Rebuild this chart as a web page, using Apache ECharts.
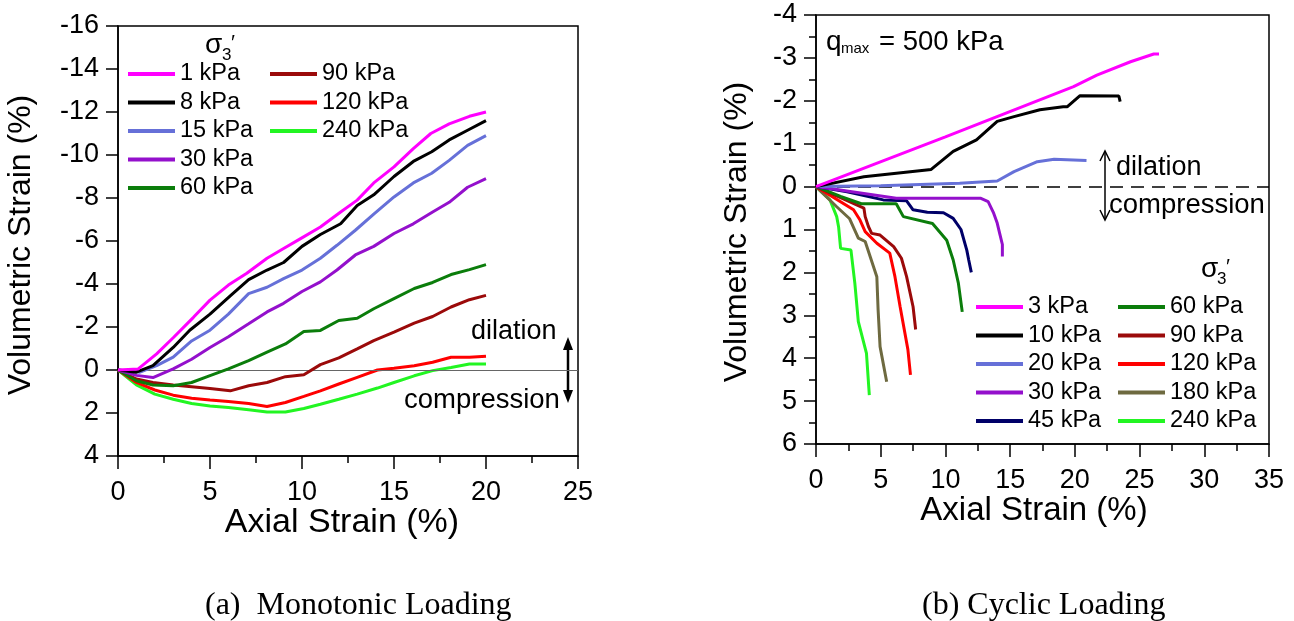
<!DOCTYPE html>
<html>
<head>
<meta charset="utf-8">
<script src="https://cdn.jsdelivr.net/npm/echarts@6/dist/echarts.min.js"></script>
<style>
html,body{margin:0;padding:0;background:#fff;}
#c{width:1294px;height:621px;}
</style>
</head>
<body>
<div id="c"></div>
<script>
// ---------- Monotonic loading (axial strain %, volumetric strain %) ----------
const mono1   = [[0,0],[1.1,-0.05],[2.1,-0.75],[3.0,-1.5],[4.1,-2.45],[5.0,-3.25],[6.0,-3.95],[7.0,-4.5],[8.1,-5.2],[9.0,-5.65],[9.9,-6.1],[11.0,-6.65],[12.1,-7.35],[13.0,-7.9],[13.9,-8.7],[15.0,-9.45],[16.05,-10.3],[17.0,-11.0],[18.0,-11.45],[19.1,-11.8],[20.0,-12.0]];
const mono8   = [[0,0],[1.0,0.1],[1.9,-0.2],[3.0,-1.05],[3.9,-1.85],[5.0,-2.6],[6.1,-3.45],[7.1,-4.2],[8.1,-4.65],[9.0,-5.0],[10.0,-5.75],[11.0,-6.3],[12.1,-6.8],[13.0,-7.65],[13.9,-8.15],[15.0,-9.0],[16.05,-9.7],[17.05,-10.15],[18.0,-10.7],[19.0,-11.15],[20.0,-11.6]];
const mono15  = [[0,0],[1.2,0.1],[2.1,-0.2],[3.0,-0.6],[4.0,-1.35],[5.0,-1.85],[6.0,-2.6],[7.1,-3.55],[8.1,-3.85],[9.0,-4.25],[10.0,-4.65],[11.0,-5.2],[11.9,-5.8],[12.9,-6.5],[13.9,-7.25],[15.0,-8.05],[16.05,-8.7],[17.05,-9.15],[18.0,-9.75],[19.0,-10.45],[20.0,-10.9]];
const mono30  = [[0,0],[1.0,0.25],[1.9,0.35],[3.0,-0.05],[4.0,-0.5],[5.0,-1.05],[6.0,-1.55],[7.1,-2.15],[8.1,-2.7],[9.0,-3.1],[10.0,-3.65],[11.0,-4.1],[11.9,-4.65],[12.9,-5.35],[13.9,-5.75],[15.0,-6.35],[16.05,-6.8],[17.1,-7.35],[18.0,-7.8],[19.0,-8.5],[20.0,-8.9]];
const mono60  = [[0,0],[1.0,0.5],[1.9,0.7],[3.0,0.73],[4.0,0.58],[5.0,0.26],[6.0,-0.05],[7.1,-0.44],[8.1,-0.83],[9.1,-1.21],[10.1,-1.79],[11.0,-1.84],[12.0,-2.3],[13.0,-2.41],[13.9,-2.85],[15.0,-3.32],[16.1,-3.79],[17.1,-4.07],[18.1,-4.44],[19.1,-4.67],[20.0,-4.9]];
const mono90  = [[0,0],[1.0,0.42],[1.9,0.58],[3.0,0.7],[4.0,0.78],[5.0,0.86],[6.1,0.97],[7.1,0.73],[8.1,0.58],[9.1,0.31],[10.1,0.22],[11.0,-0.25],[12.0,-0.56],[13.0,-0.98],[13.9,-1.37],[15.0,-1.76],[16.1,-2.18],[17.1,-2.49],[18.1,-2.93],[19.1,-3.27],[20.0,-3.47]];
const mono120 = [[0,0],[1.0,0.58],[2.0,0.93],[3.0,1.17],[4.0,1.31],[5.0,1.39],[6.0,1.46],[7.1,1.56],[8.1,1.7],[9.1,1.51],[10.1,1.23],[11.0,0.97],[12.0,0.65],[13.0,0.34],[14.1,0.0],[15.0,-0.08],[16.1,-0.2],[17.1,-0.36],[18.1,-0.59],[19.1,-0.59],[20.0,-0.64]];
const mono240 = [[0,0],[1.0,0.69],[2.0,1.12],[3.0,1.36],[4.0,1.56],[5.0,1.67],[6.0,1.74],[7.1,1.85],[8.1,1.95],[9.1,1.95],[10.1,1.79],[11.0,1.59],[12.0,1.36],[13.0,1.12],[14.1,0.84],[15.0,0.58],[16.1,0.27],[17.1,0.03],[18.1,-0.12],[19.1,-0.28],[20.0,-0.28]];

// ---------- Cyclic loading (q_max = 500 kPa) ----------
const cyc3   = [[0,0],[10.0,-1.16],[19.9,-2.33],[21.7,-2.6],[24.3,-2.91],[26.1,-3.09],[26.5,-3.09]];
const cyc10  = [[0,0],[3.7,-0.23],[8.9,-0.4],[10.6,-0.82],[12.4,-1.09],[14.0,-1.52],[15.3,-1.63],[17.3,-1.79],[19.1,-1.86],[19.4,-1.86],[20.4,-2.12],[23.4,-2.11],[23.5,-1.98]];
const cyc20  = [[0,0],[5.0,-0.02],[11.1,-0.08],[14.0,-0.13],[15.3,-0.35],[17.1,-0.58],[18.4,-0.64],[20.9,-0.61]];
const cyc30  = [[0,0],[3.7,0.16],[6.2,0.27],[12.7,0.27],[13.3,0.35],[13.7,0.6],[14.0,0.85],[14.2,1.1],[14.4,1.35],[14.4,1.63]];
const cyc45  = [[0,0],[2.4,0.12],[5.2,0.31],[7.0,0.33],[7.5,0.54],[8.6,0.6],[9.85,0.61],[10.6,0.74],[11.2,1.0],[11.65,1.48],[11.8,1.71],[12.0,2.0]];
const cyc60  = [[0,0],[1.9,0.23],[3.5,0.4],[6.2,0.4],[6.75,0.7],[9.0,0.86],[10.1,1.25],[10.6,1.71],[11.0,2.25],[11.3,2.92]];
const cyc90  = [[0,0],[3.7,0.5],[3.8,0.7],[4.05,0.93],[4.3,1.09],[4.95,1.13],[6.0,1.4],[6.6,1.67],[7.0,2.1],[7.5,2.8],[7.7,3.33]];
const cyc120 = [[0,0],[2.9,0.54],[3.4,0.78],[3.8,1.05],[4.7,1.32],[5.7,1.55],[6.1,2.1],[6.5,2.8],[7.1,3.8],[7.3,4.39]];
const cyc180 = [[0,0],[1.6,0.47],[2.6,0.75],[3.27,1.2],[3.8,1.28],[4.7,2.1],[4.8,2.88],[4.95,3.73],[5.46,4.55]];
const cyc240 = [[0,0],[1.08,0.31],[1.6,0.7],[1.75,0.95],[1.9,1.44],[2.7,1.48],[3.0,2.25],[3.27,3.15],[3.9,3.89],[4.12,4.86]];

// names / labels
const monoNames = ['1 kPa','8 kPa','15 kPa','30 kPa','60 kPa','90 kPa','120 kPa','240 kPa'];
const monoData  = [mono1, mono8, mono15, mono30, mono60, mono90, mono120, mono240];
const cycNames  = ['3 kPa','10 kPa','20 kPa','30 kPa','45 kPa','60 kPa','90 kPa','120 kPa','180 kPa','240 kPa'];
const cycData   = [cyc3, cyc10, cyc20, cyc30, cyc45, cyc60, cyc90, cyc120, cyc180, cyc240];
const xLabel = 'Axial Strain (%)';
const yLabel = 'Volumetric Strain (%)';
const captionA = '(a)  Monotonic Loading';
const captionB = '(b) Cyclic Loading';

// styling
const colorOf = {
  '1 kPa':'#ff00ff','3 kPa':'#ff00ff','8 kPa':'#000000','10 kPa':'#000000',
  '15 kPa':'#6670d8','20 kPa':'#6670d8','30 kPa':'#9410cc','45 kPa':'#000068',
  '60 kPa':'#0b7d0b','90 kPa':'#9b0a0a','120 kPa':'#ff0000','180 kPa':'#6e6a40','240 kPa':'#22f522'
};
const FF = '"Liberation Sans", Arial, Helvetica, sans-serif';
const SERIF = '"Liberation Serif", "Times New Roman", serif';

function mkX(grid, max, labelMargin){
  return {
    gridIndex:grid, type:'value', min:0, max:max, interval:5,
    axisLine:{onZero:false, lineStyle:{color:'#000', width:1.5}},
    axisTick:{length:13, lineStyle:{color:'#000', width:1.5}},
    minorTick:{show:true, splitNumber:2, length:7, lineStyle:{color:'#000', width:1.5}},
    axisLabel:{fontSize:27, color:'#000', margin:labelMargin, fontFamily:FF},
    splitLine:{show:false}, minorSplitLine:{show:false}
  };
}
function mkY(grid, min, max, interval, minor){
  return {
    gridIndex:grid, type:'value', inverse:true, min:min, max:max, interval:interval,
    axisLine:{onZero:false, lineStyle:{color:'#000', width:1.5}},
    axisTick:{length:12, lineStyle:{color:'#000', width:1.5}},
    minorTick:{show:minor, splitNumber:2, length:7, lineStyle:{color:'#000', width:1.5}},
    axisLabel:{fontSize:27, color:'#000', margin:19, fontFamily:FF},
    splitLine:{show:false}, minorSplitLine:{show:false}
  };
}

const series = [];
monoNames.forEach((n,i)=>{
  const s = {name:n, type:'line', xAxisIndex:0, yAxisIndex:0, data:monoData[i], symbol:'none',
    lineStyle:{width:3, color:colorOf[n]}, itemStyle:{color:colorOf[n]}, z:10-i};
  if(i===0){
    s.markLine = {silent:true, symbol:['none','none'], label:{show:false}, animation:false,
      lineStyle:{color:'#666', width:1, type:'solid'}, data:[{yAxis:0}]};
  }
  series.push(s);
});
cycNames.forEach((n,i)=>{
  const s = {name:n, type:'line', xAxisIndex:1, yAxisIndex:1, data:cycData[i], symbol:'none',
    lineStyle:{width:3, color:colorOf[n]}, itemStyle:{color:colorOf[n]}, z:10-i};
  if(i===0){
    s.markLine = {silent:true, symbol:['none','none'], label:{show:false}, animation:false,
      lineStyle:{color:'#000', width:1.5, type:[13,8]}, data:[{yAxis:0}]};
  }
  series.push(s);
});

function mkLegend(names, left, top){
  return {data:names, left:left, top:top, orient:'vertical', icon:'rect', itemWidth:47, itemHeight:4,
    itemGap:4.5, itemStyle:{borderWidth:0}, selectedMode:false, padding:0,
    textStyle:{fontSize:23.5, color:'#000', fontFamily:FF}};
}

function txt(text, x, y, size, opts){
  opts = opts || {};
  return {type:'text', x:x, y:y, rotation:opts.rot||0, silent:true,
    style:{text:text, font:(opts.family? size+'px '+opts.family : size+'px '+FF), fill:'#000',
      align:opts.align||'left', textAlign:opts.align||'left',
      verticalAlign:'middle', textVerticalAlign:'middle'}};
}

const graphics = [
  txt(yLabel, 21, 245, 32, {rot:Math.PI/2, align:'center'}),
  txt(yLabel, 737, 232, 32, {rot:Math.PI/2, align:'center'}),
  txt(xLabel, 342, 523, 34, {align:'center'}),
  txt(xLabel, 1034, 511, 33, {align:'center'}),
  txt(captionA, 205, 606, 32, {family:SERIF}),
  txt(captionB, 922, 606, 32, {family:SERIF}),
  // left annotations
  txt('dilation', 471, 332, 27),
  txt('compression', 404, 400, 27.5),
  {type:'line', silent:true, shape:{x1:568,y1:346,x2:568,y2:394}, style:{stroke:'#000', lineWidth:2.5}},
  {type:'polygon', silent:true, shape:{points:[[568,337],[563,350],[573,350]]}, style:{fill:'#000'}},
  {type:'polygon', silent:true, shape:{points:[[568,403],[563,390],[573,390]]}, style:{fill:'#000'}},
  // right annotations
  txt('dilation', 1116, 168, 27),
  txt('compression', 1109, 205, 27.5),
  {type:'line', silent:true, shape:{x1:1105,y1:152,x2:1105,y2:219}, style:{stroke:'#000', lineWidth:1.5}},
  {type:'polyline', silent:true, shape:{points:[[1100,161],[1105,151],[1110,161]]}, style:{stroke:'#000', lineWidth:1.5, fill:null}},
  {type:'polyline', silent:true, shape:{points:[[1100,210],[1105,220],[1110,210]]}, style:{stroke:'#000', lineWidth:1.5, fill:null}},
  txt('q', 826, 42, 28),
  txt('max', 841, 49, 15),
  txt('= 500 kPa', 879, 42, 27.5),
  // legend titles sigma3'
  txt('σ', 205, 45, 28),
  txt('3', 222, 55, 17),
  txt('′', 231, 43, 21),
  txt('σ', 1201, 269, 28),
  txt('3', 1217, 279, 17),
  txt('′', 1226, 267, 21)
];

const option = {
  animation:false,
  backgroundColor:'#fff',
  textStyle:{fontFamily:FF},
  grid:[
    {left:118, top:26, width:460, height:430, show:true, borderColor:'#000', borderWidth:1.5, backgroundColor:'transparent'},
    {left:816, top:15, width:453, height:429, show:true, borderColor:'#000', borderWidth:1.5, backgroundColor:'transparent'}
  ],
  xAxis:[mkX(0,25,23), mkX(1,35,23)],
  yAxis:[mkY(0,-16,4,2,false), mkY(1,-4,6,1,true)],
  legend:[
    mkLegend(['1 kPa','8 kPa','15 kPa','30 kPa','60 kPa'], 128, 62),
    mkLegend(['90 kPa','120 kPa','240 kPa'], 270, 62),
    mkLegend(['3 kPa','10 kPa','20 kPa','30 kPa','45 kPa'], 976, 295),
    mkLegend(['60 kPa','90 kPa','120 kPa','180 kPa','240 kPa'], 1118, 295)
  ],
  series:series,
  graphic:{elements:graphics}
};

const chart = echarts.init(document.getElementById('c'), null, {renderer:'canvas'});
chart.setOption(option);
</script>
</body>
</html>
